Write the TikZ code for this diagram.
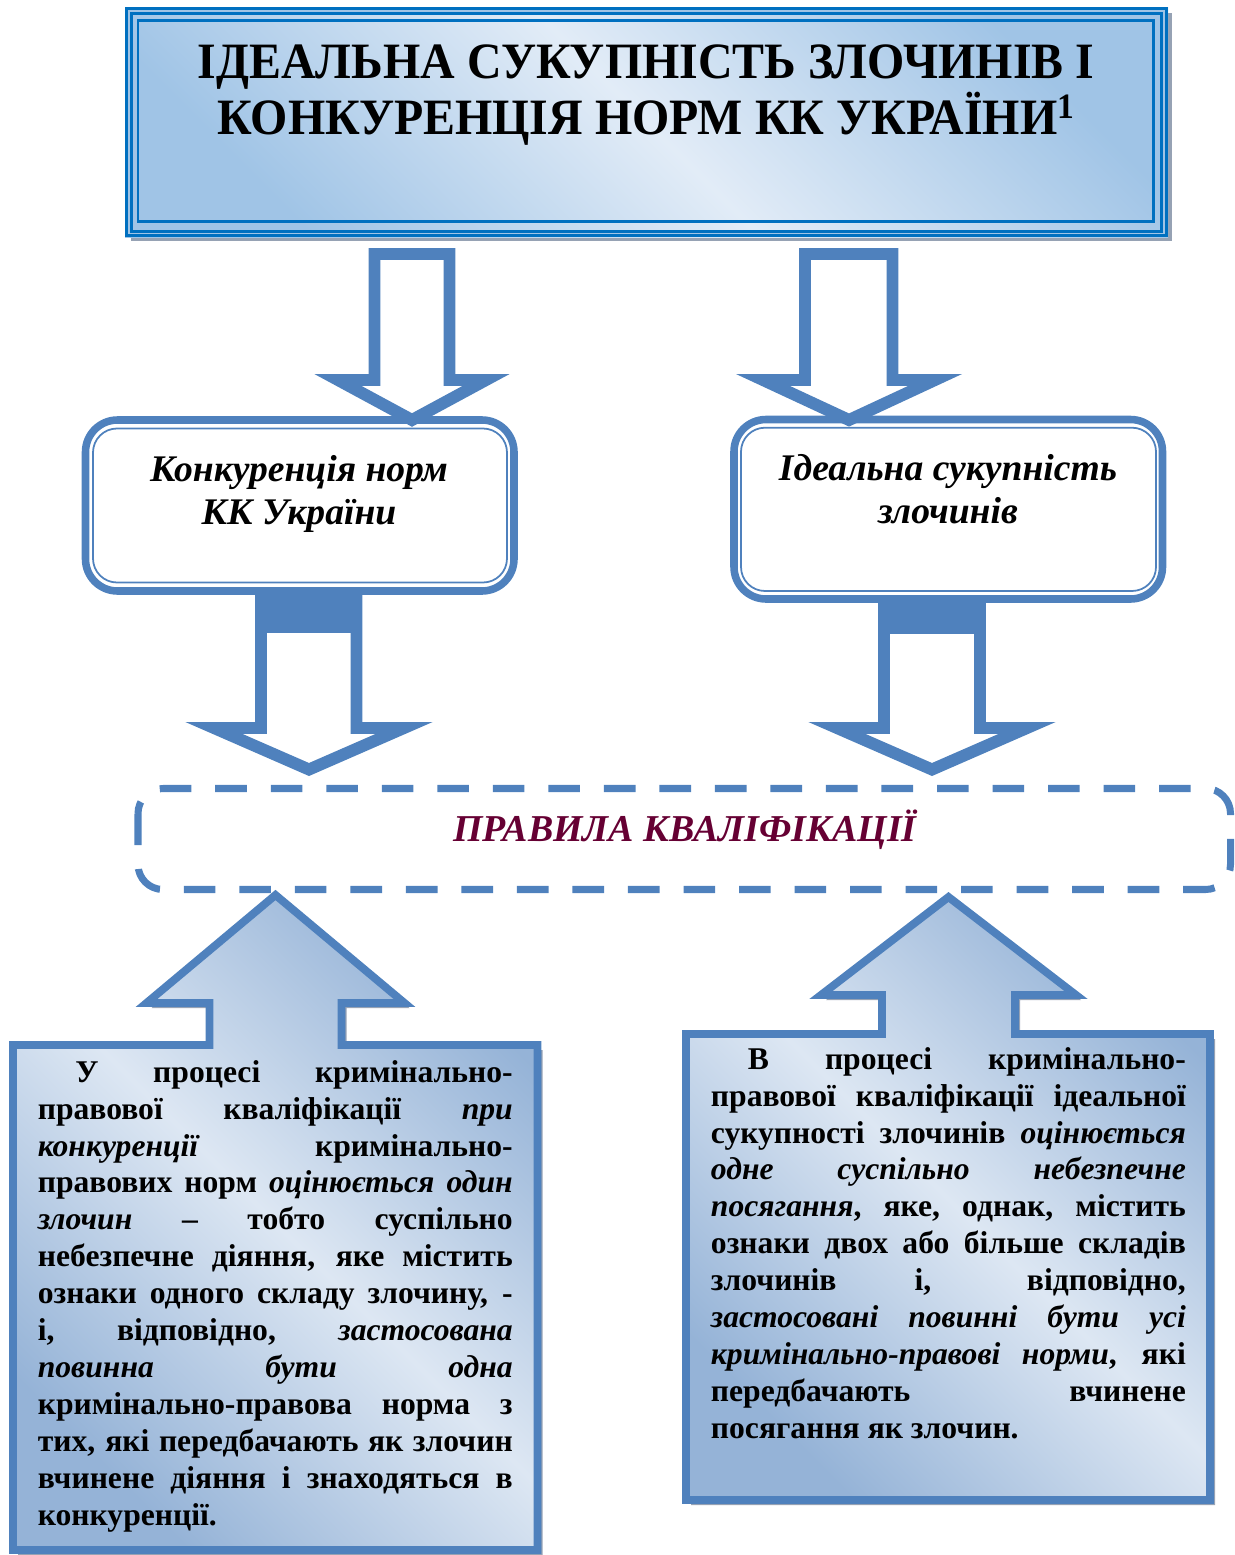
\documentclass[tikz,border=0pt]{standalone}
\usepackage{graphicx}
\usepackage{fontspec}
\setmainfont{Liberation Serif}
\definecolor{arrowblue}{RGB}{79,129,189}
\definecolor{frameblue}{RGB}{0,112,192}
\definecolor{notedark}{RGB}{149,179,215}
\definecolor{notelight}{RGB}{221,231,243}
\definecolor{headdark}{RGB}{160,196,230}
\definecolor{headlight}{RGB}{226,236,247}
\definecolor{rulesred}{RGB}{102,0,51}
\definecolor{shadowgray}{RGB}{150,162,180}
\newcommand{\narrow}[2]{\scalebox{#1}[1]{#2}}
\begin{document}
\begin{tikzpicture}[x=0.02cm,y=-0.02cm,
  blockarrow/.style={draw=arrowblue,line width=6.8pt,fill=white,line join=miter},
  notebox/.style={draw=arrowblue,line width=4.5pt,line join=miter,
    preaction={fill=shadowgray,transform canvas={shift={(5,5)}}},
    top color=notedark,bottom color=notedark,middle color=notelight,shading angle=-45},
  notetext/.style={anchor=north west,inner sep=0pt,text width=9.5cm,align=justify,
    font=\fontsize{18}{21}\selectfont\bfseries},
  boxlabel/.style={inner sep=0pt,align=center,font=\fontsize{21.4}{24.4}\selectfont\bfseries\itshape}]
  \useasboundingbox (0,0) rectangle (1234,1555);
  \fill[shadowgray] (131,13) rectangle (1172,241);
  \shade[top color=headdark,bottom color=headdark,middle color=headlight,shading angle=-45] (125,7) rectangle (1168,237);
  \draw[frameblue,line width=4.5pt] (129,11) rectangle (1164,233.5);
  \draw[headdark,line width=0.7pt] (129,11) rectangle (1164,233.5);
  \draw[frameblue,line width=1.7pt] (138,20.6) rectangle (1153.3,221.7);
  \node[inner sep=0pt,align=center,font=\bfseries\fontsize{29}{31.7}\selectfont] (title) at (646,95)
    {\narrow{0.94}{ІДЕАЛЬНА СУКУПНІСТЬ ЗЛОЧИНІВ І}\\\narrow{0.94}{КОНКУРЕНЦІЯ НОРМ КК УКРАЇНИ\textsuperscript{1}}};
  \draw[arrowblue,line width=4.3pt,rounded corners=0.64cm] (85.5,420) rectangle (514,591);
  \draw[arrowblue,line width=1pt,rounded corners=0.48cm] (93,428.5) rectangle (507,582.5);
  \node[boxlabel] (conc) at (299,494) {Конкуренція норм\\КК України};
  \draw[arrowblue,line width=4.3pt,rounded corners=0.64cm] (734,419.5) rectangle (1162.5,599);
  \draw[arrowblue,line width=1pt,rounded corners=0.48cm] (741,427.7) rectangle (1156,591);
  \node[boxlabel] (ideal) at (948,489) {Ідеальна сукупність\\злочинів};
  \draw[blockarrow] (374.5,254) -- (449.5,254) -- (449.5,380) -- (486,380) -- (412,420) -- (338,380) -- (374.5,380) -- cycle;
  \draw[blockarrow] (805,254) -- (892.5,254) -- (892.5,380) -- (935,380) -- (849,420) -- (763,380) -- (805,380) -- cycle;
  \draw[blockarrow] (261,600) -- (356.5,600) -- (356.5,728) -- (404,728) -- (309,769.5) -- (214,728) -- (261,728) -- cycle;
  \fill[arrowblue] (255,594) rectangle (362,633);
  \draw[blockarrow] (884,606) -- (980,606) -- (980,728) -- (1027,728) -- (932,769.5) -- (837,728) -- (884,728) -- cycle;
  \fill[arrowblue] (878,601) rectangle (986,634);
  \draw[arrowblue,line width=4pt,dash pattern=on 18pt off 13.6pt,rounded corners=0.5cm] (138,788.5) rectangle (1230.5,889.5);
  \node[inner sep=0pt,text=rulesred,font=\bfseries\itshape\fontsize{21.6}{24}\selectfont] (rules) at (685,830) {ПРАВИЛА КВАЛІФІКАЦІЇ};
  \draw[notebox] (13,1045) -- (209.5,1045) -- (209.5,1003) -- (146.5,1003) -- (275.5,895) -- (404.5,1003) -- (341.5,1003) -- (341.5,1045) -- (537.5,1045) -- (537.5,1550) -- (13,1550) -- cycle;
  \draw[notebox] (686,1034) -- (882,1034) -- (882,995) -- (821,995) -- (948.5,897) -- (1076,995) -- (1015,995) -- (1015,1034) -- (1210,1034) -- (1210,1500) -- (686,1500) -- cycle;
  \node[notetext] (concnote) at (37.5,1060) {\hspace*{0.75cm}У процесі кримінально-\linebreak правової кваліфікації \textit{при}\linebreak \textit{конкуренції} кримінально-\linebreak правових норм \textit{оцінюється один}\linebreak \textit{злочин} – тобто суспільно\linebreak небезпечне діяння, яке містить\linebreak ознаки одного складу злочину, -\linebreak і, відповідно, \textit{застосована}\linebreak \textit{повинна бути одна}\linebreak кримінально-правова норма з\linebreak тих, які передбачають як злочин\linebreak вчинене діяння і знаходяться в\linebreak конкуренції.};
  \node[notetext] (idealnote) at (710.6,1047) {\hspace*{0.74cm}В процесі кримінально-\linebreak правової кваліфікації ідеальної\linebreak сукупності злочинів \textit{оцінюється}\linebreak \textit{одне суспільно небезпечне}\linebreak \textit{посягання}, яке, однак, містить\linebreak ознаки двох або більше складів\linebreak злочинів і, відповідно,\linebreak \textit{застосовані повинні бути усі}\linebreak \textit{кримінально-правові норми}, які\linebreak передбачають вчинене\linebreak посягання як злочин.};
\end{tikzpicture}
\end{document}
